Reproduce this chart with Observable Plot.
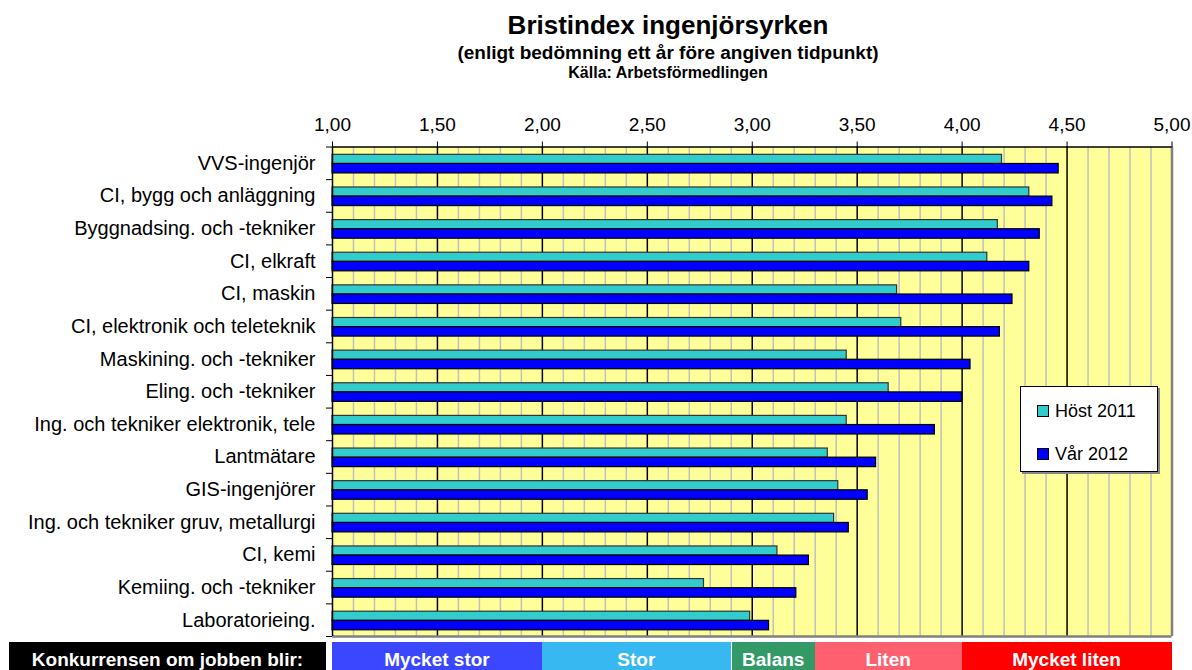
<!DOCTYPE html>
<html>
<head>
<meta charset="utf-8">
<script src="https://cdn.jsdelivr.net/npm/d3@7"></script>
<script src="https://cdn.jsdelivr.net/npm/@observablehq/plot@0.6"></script>
<style>
  html, body { margin: 0; padding: 0; background: #fff; overflow: hidden; }
  body { width: 1192px; height: 670px; position: relative; font-family: "Liberation Sans", Arial, sans-serif; color: #000; }
  .t { position: absolute; left: 268px; width: 800px; text-align: center; font-weight: bold; line-height: 1; white-space: nowrap; }
  #chart { position: absolute; left: 0; top: 96px; }
  #legend { position: absolute; left: 1020px; top: 386px; width: 138px; height: 86px; border: 1px solid #000; background: #fff; box-shadow: 2px 2px 0 #888; box-sizing: border-box; }
  .li { position: absolute; left: 16px; font-size: 18px; line-height: 1; white-space: nowrap; }
  .sw { display: inline-block; width: 10px; height: 10px; border: 1px solid #000; margin-right: 6px; vertical-align: 0px; }
  .band { position: absolute; top: 642px; height: 28px; overflow: hidden; color: #fff; font-weight: bold; font-size: 19px; line-height: 36px; text-align: center; white-space: nowrap; }
</style>
</head>
<body>
<div class="t" style="top:12px;font-size:26px;">Bristindex ingenjörsyrken</div>
<div class="t" style="top:43px;font-size:19px;">(enligt bedömning ett år före angiven tidpunkt)</div>
<div class="t" style="top:65px;font-size:16px;">Källa: Arbetsförmedlingen</div>
<div id="chart"></div>
<div id="legend"></div>
<div id="bands"></div>
<script>
// ---- data ----
const categories = [
  "VVS-ingenjör",
  "CI, bygg och anläggning",
  "Byggnadsing. och -tekniker",
  "CI, elkraft",
  "CI, maskin",
  "CI, elektronik och teleteknik",
  "Maskining. och -tekniker",
  "Eling. och -tekniker",
  "Ing. och tekniker elektronik, tele",
  "Lantmätare",
  "GIS-ingenjörer",
  "Ing. och tekniker gruv, metallurgi",
  "CI, kemi",
  "Kemiing. och -tekniker",
  "Laboratorieing."
];
const host2011 = [4.19, 4.32, 4.17, 4.12, 3.69, 3.71, 3.45, 3.65, 3.45, 3.36, 3.41, 3.39, 3.12, 2.77, 2.99];
const var2012  = [4.46, 4.43, 4.37, 4.32, 4.24, 4.18, 4.04, 4.00, 3.87, 3.59, 3.55, 3.46, 3.27, 3.21, 3.08];
const seriesNames = ["Höst 2011", "Vår 2012"];
const xTicks = [1, 1.5, 2, 2.5, 3, 3.5, 4, 4.5, 5];
const zoneBreaks = [1, 2, 2.9, 3.3, 4, 5];
const zoneLabels = ["Mycket stor", "Stor", "Balans", "Liten", "Mycket liten"];
const bandTitle = "Konkurrensen om jobben blir:";

// ---- styles ----
const seriesColors = ["#33CCCC", "#0000FF"];
const seriesStroke = ["#333333", "#000000"];
const zoneColors = ["#3B47FF", "#38B8F0", "#339966", "#FF6070", "#FF0000"];

const n = categories.length;
const rows = [];
categories.forEach((c, i) => {
  rows.push({category: c, i, s: 0, series: seriesNames[0], value: host2011[i]});
  rows.push({category: c, i, s: 1, series: seriesNames[1], value: var2012[i]});
});
const slot = [[0.24, 0.52], [0.52, 0.81]];
const minorGrid = d3.range(11, 50).filter(v => v % 5 !== 0).map(v => v / 10);
const majorGrid = xTicks.filter(v => v > 1 && v < 5);
const fmt = d => d.toFixed(2).replace(".", ",");

const plot = Plot.plot({
  width: 1192,
  height: 544,
  marginTop: 50.5,
  marginBottom: 4,
  marginLeft: 332,
  marginRight: 20.5,
  style: {fontFamily: '"Liberation Sans", Arial, sans-serif', fontSize: "18px", color: "#000", background: "transparent", overflow: "visible"},
  x: {domain: [1, 5], label: null},
  y: {domain: [0, n], reverse: true, label: null},
  color: {domain: seriesNames, range: seriesColors},
  marks: [
    Plot.frame({fill: "#FFFF99", stroke: "none"}),
    Plot.ruleX(minorGrid, {stroke: "#C0C0C0", strokeWidth: 1.5}),
    Plot.ruleX(majorGrid, {stroke: "#000", strokeWidth: 1.5}),
    Plot.rect(rows, {
      x1: () => 1,
      x2: "value",
      y1: d => d.i + slot[d.s][0],
      y2: d => d.i + slot[d.s][1],
      fill: "series",
      stroke: d => seriesStroke[d.s],
      strokeWidth: 1.2
    }),
    Plot.ruleX([5], {stroke: "#808080", strokeWidth: 2.5}),
    Plot.ruleY([n], {stroke: "#808080", strokeWidth: 2.5}),
    Plot.ruleY([0], {stroke: "#000", strokeWidth: 1.5}),
    Plot.ruleX([1], {stroke: "#000", strokeWidth: 1.5}),
    Plot.axisX(xTicks, {anchor: "top", tickSize: 6, tickPadding: 10, tickFormat: fmt, fontSize: 19, label: null}),
    Plot.axisY(d3.range(0, n + 1), {anchor: "left", tickSize: 6, tickFormat: () => "", label: null}),
    Plot.axisY(categories.map((c, i) => i + 0.5), {anchor: "left", tickSize: 0, tickPadding: 17, tickFormat: d => categories[Math.floor(d)], fontSize: 20, label: null})
  ]
});
document.getElementById("chart").appendChild(plot);

// ---- legend ----
const legend = document.getElementById("legend");
seriesNames.forEach((name, k) => {
  const el = document.createElement("div");
  el.className = "li";
  el.style.top = (k === 0 ? 15 : 58) + "px";
  el.innerHTML = `<span class="sw" style="background:${seriesColors[k]}"></span>${name}`;
  legend.appendChild(el);
});

// ---- bottom band ----
const xs = plot.scale("x");
const bands = document.getElementById("bands");
const head = document.createElement("div");
head.className = "band";
head.style.left = "9px";
head.style.width = "317px";
head.style.background = "#000";
head.textContent = bandTitle;
bands.appendChild(head);
zoneLabels.forEach((lab, k) => {
  const x0 = xs.apply(zoneBreaks[k]);
  const x1 = xs.apply(zoneBreaks[k + 1]);
  const el = document.createElement("div");
  el.className = "band";
  el.style.left = x0 + (k === 2 ? 1 : 0) + "px";
  el.style.width = (x1 - x0 - (k === 2 ? 1 : 0)) + "px";
  el.style.background = zoneColors[k];
  el.textContent = lab;
  bands.appendChild(el);
});
</script>
</body>
</html>
